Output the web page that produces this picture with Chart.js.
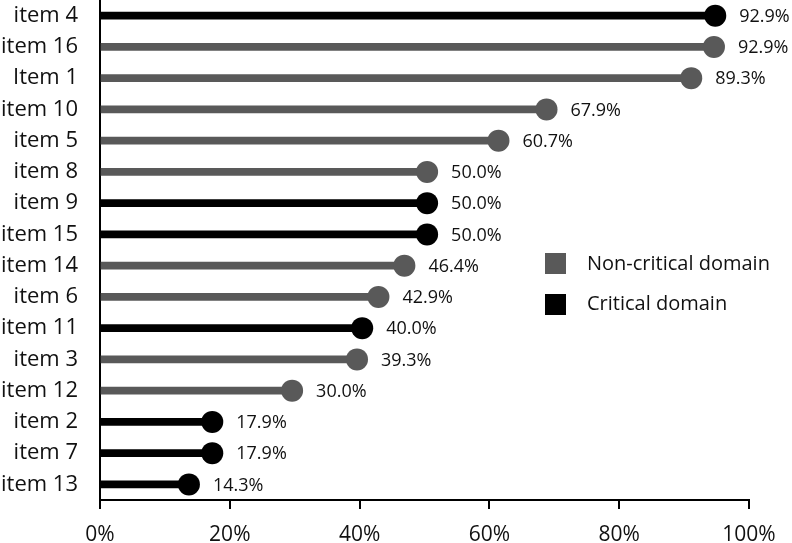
<!DOCTYPE html>
<html>
<head>
<meta charset="utf-8">
<script src="https://cdn.jsdelivr.net/npm/chart.js@4.4.1/dist/chart.umd.min.js"></script>
<style>
  html, body { margin: 0; padding: 0; background: #fff; }
  #wrap { position: relative; width: 792px; height: 543px; }
  canvas { position: absolute; left: 0; top: 0; }
  .leg { position: absolute; font-family: "Open Sans", sans-serif; font-size: 20px; color: #111; white-space: nowrap; line-height: 22px; }
  .sw { position: absolute; width: 21px; height: 21px; }
</style>
</head>
<body>
<div id="wrap">
  <canvas id="c" width="792" height="543"></canvas>
  <div class="sw" style="left:545px;top:253px;background:#595959"></div>
  <div class="leg" style="left:587px;top:252px">Non-critical domain</div>
  <div class="sw" style="left:545px;top:294px;background:#000"></div>
  <div class="leg" style="left:587px;top:292px">Critical domain</div>
</div>
<script>
// Items, top to bottom
const items = ["item 4","item 16","Item 1","item 10","item 5","item 8","item 9","item 15","item 14","item 6","item 11","item 3","item 12","item 2","item 7","item 13"];
// Dot positions (%)
const values = [94.8, 94.6, 91.1, 68.8, 61.4, 50.4, 50.4, 50.4, 46.9, 42.9, 40.4, 39.6, 29.6, 17.3, 17.3, 13.7];
// Printed value labels
const valueLabels = ["92.9%","92.9%","89.3%","67.9%","60.7%","50.0%","50.0%","50.0%","46.4%","42.9%","40.0%","39.3%","30.0%","17.9%","17.9%","14.3%"];
// Domain: 1 = critical, 0 = non-critical
const critical = [1,0,0,0,0,0,1,1,0,0,1,0,0,1,1,1];
const xTicks = [0,20,40,60,80,100];

const GREY = "#595959", BLACK = "#000000";
const colors = critical.map(c => c ? BLACK : GREY);

const valueLabelPlugin = {
  id: "valueLabels",
  afterDatasetsDraw(chart) {
    const meta = chart.getDatasetMeta(1);
    const ctx = chart.ctx;
    ctx.save();
    ctx.font = "18px 'Open Sans', sans-serif";
    ctx.fillStyle = "#111";
    ctx.textAlign = "left";
    ctx.textBaseline = "middle";
    meta.data.forEach((pt, i) => {
      ctx.fillText(valueLabels[i], pt.x + 24, pt.y + 1);
    });
    ctx.restore();
  }
};

new Chart(document.getElementById("c"), {
  type: "bar",
  data: {
    labels: items,
    datasets: [
      {
        type: "bar",
        data: values,
        backgroundColor: colors,
        barThickness: 7,
        borderWidth: 0,
        order: 2
      },
      {
        type: "line",
        data: values,
        showLine: false,
        pointRadius: 11,
        pointHoverRadius: 11,
        pointBackgroundColor: colors,
        pointBorderWidth: 0,
        borderColor: "transparent",
        clip: false,
        order: 1
      }
    ]
  },
  options: {
    indexAxis: "y",
    responsive: false,
    animation: false,
    events: [],
    layout: { autoPadding: false, padding: { top: 0, right: 43, bottom: 0, left: 0 } },
    plugins: { legend: { display: false }, tooltip: { enabled: false } },
    scales: {
      x: {
        min: 0, max: 100,
        afterBuildTicks(scale) { scale.ticks = xTicks.map(v => ({ value: v })); },
        afterFit(scale) { scale.height = 43; },
        border: { display: true, color: "#000", width: 2 },
        grid: { display: true, drawOnChartArea: false, drawTicks: true, tickLength: 9, color: "#000", lineWidth: 2 },
        ticks: {
          callback: v => v + "%",
          color: "#111",
          font: { family: "'Open Sans', sans-serif", size: 21 },
          padding: 13,
          maxRotation: 0
        }
      },
      y: {
        afterFit(scale) { scale.width = 100; scale.paddingTop = 0; scale.paddingBottom = 0; },
        border: { display: true, color: "#000", width: 2 },
        grid: { display: false, drawTicks: false },
        ticks: {
          color: "#111",
          font: { family: "'Open Sans', sans-serif", size: 22 },
          padding: 22
        }
      }
    }
  },
  plugins: [valueLabelPlugin]
});
</script>
</body>
</html>
